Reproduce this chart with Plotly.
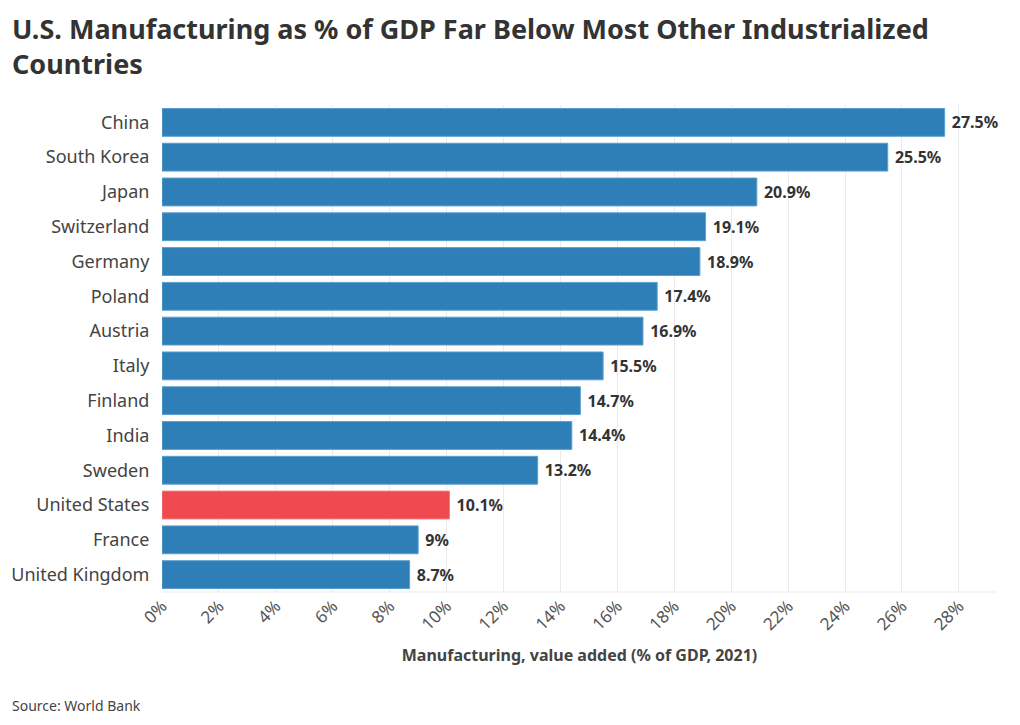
import plotly.graph_objects as go

countries = ["China", "South Korea", "Japan", "Switzerland", "Germany", "Poland", "Austria",
             "Italy", "Finland", "India", "Sweden", "United States", "France", "United Kingdom"]
values = [27.5, 25.5, 20.9, 19.1, 18.9, 17.4, 16.9, 15.5, 14.7, 14.4, 13.2, 10.1, 9.0, 8.7]
labels = ["27.5%", "25.5%", "20.9%", "19.1%", "18.9%", "17.4%", "16.9%", "15.5%", "14.7%",
          "14.4%", "13.2%", "10.1%", "9%", "8.7%"]
highlight = "United States"

BLUE = "#2e7eb7"
RED = "#ee4a50"
colors = [RED if c == highlight else BLUE for c in countries]
line_colors = ["#f47a7e" if c == highlight else "#5a9fd0" for c in countries]

FONT = "Noto Sans"
PW, PH = 835, 487

fig = go.Figure(go.Bar(
    x=values, y=countries, orientation="h",
    marker=dict(color=colors, line=dict(color=line_colors, width=1)),
    text=labels, texttemplate="\u00a0%{text}", textposition="outside", cliponaxis=False,
    textfont=dict(family=FONT, size=16, color="#333333", weight="bold"),
))

fig.update_layout(
    width=1020, height=725,
    margin=dict(l=162, r=23, t=105, b=133),
    paper_bgcolor="white", plot_bgcolor="white",
    bargap=0.2,
    showlegend=False,
    font=dict(family=FONT, color="#444444"),
    xaxis=dict(
        range=[0, 29.34], tickmode="array",
        tickvals=list(range(0, 30, 2)),
        ticktext=[f"{v}%" for v in range(0, 30, 2)],
        tickangle=-45, tickfont=dict(family=FONT, size=17, color="#555555"),
        showgrid=True, gridcolor="#ebebeb", gridwidth=1,
        zeroline=False, showline=False,
        title=dict(text="Manufacturing, value added (% of GDP, 2021)",
                   font=dict(family=FONT, size=16, color="#444444", weight="bold"),
                   standoff=16),
    ),
    yaxis=dict(
        categoryorder="array", categoryarray=countries[::-1],
        tickfont=dict(family=FONT, size=18, color="#444444"),
        showgrid=False, zeroline=False, showline=False,
        ticks="outside", ticklen=8, tickcolor="white",
    ),
    shapes=[dict(type="line", xref="paper", yref="paper", x0=0, x1=1, y0=0, y1=0,
                 line=dict(color="#ebebeb", width=1))],
    annotations=[
        dict(text="U.S. Manufacturing as % of GDP Far Below Most Other Industrialized<br>Countries",
             xref="paper", yref="paper", x=-152/PW, y=1 + (105 - 8) / PH,
             xanchor="left", yanchor="top", align="left", showarrow=False,
             font=dict(family=FONT, size=27, color="#333333", weight="bold")),
        dict(text="Source: World Bank", xref="paper", yref="paper",
             x=-152/PW, y=-(705-592)/PH, xanchor="left", yanchor="middle",
             showarrow=False, font=dict(family=FONT, size=14, color="#444444")),
    ],
)

fig.write_html("out.html")
